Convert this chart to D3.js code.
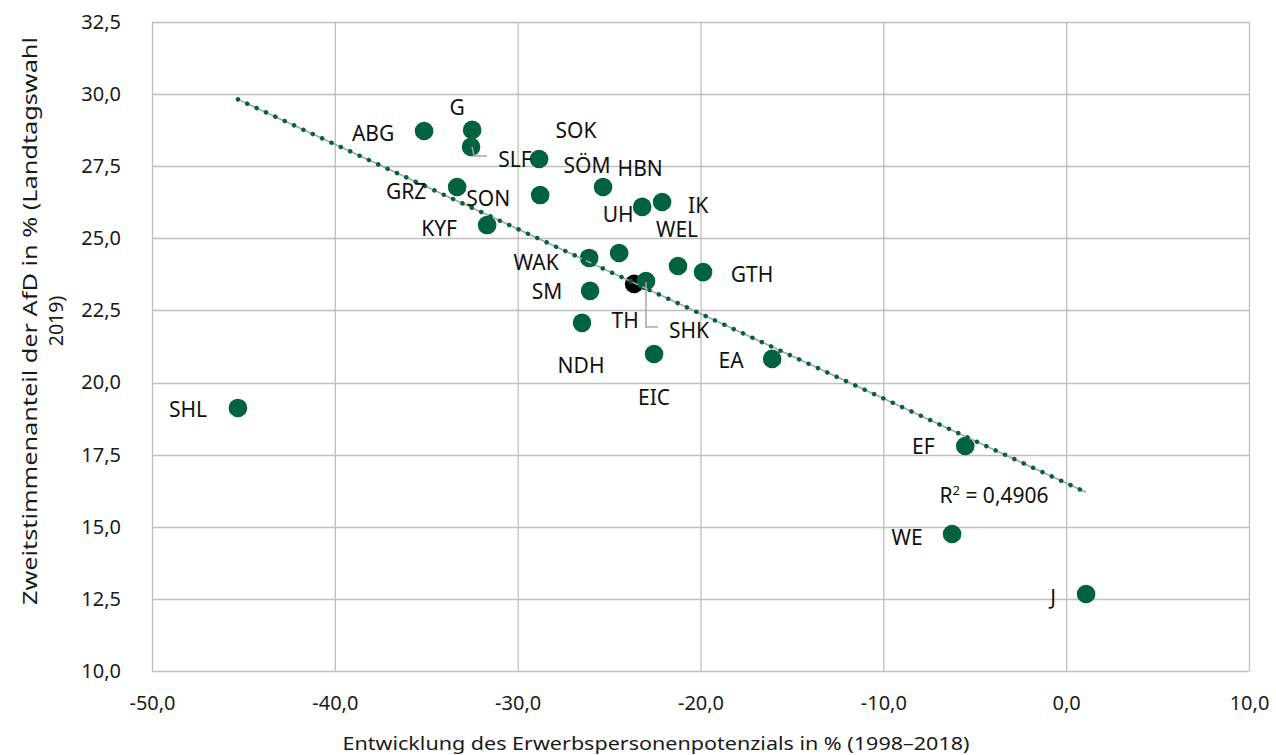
<!DOCTYPE html>
<html><head><meta charset="utf-8">
<script src="https://cdn.jsdelivr.net/npm/d3@7"></script>
<style>
html,body{margin:0;padding:0;background:#fff;}
svg{display:block;font-family:"Noto Sans",sans-serif;}
</style></head><body>
<svg id="c" width="1276" height="755"></svg>
<script>
// ---- data ----
const labels = ["ABG","G","SLF","SOK","GRZ","SÖM","SON","HBN","IK","KYF","WAK","UH","WEL","GTH","SM","TH","SHK","NDH","EIC","EA","SHL","EF","WE","J"];
const xValues = [-35.12,-32.49,-32.55,-28.83,-33.31,-25.33,-28.77,-23.19,-22.10,-31.67,-26.09,-24.45,-21.23,-19.86,-26.04,-23.63,-22.98,-26.48,-22.54,-16.08,-45.30,-5.52,-6.24,1.09];
const yValues = [28.72,28.76,28.17,27.75,26.78,26.78,26.50,26.09,26.26,25.46,24.32,24.49,24.04,23.83,23.18,23.42,23.52,22.07,20.99,20.82,19.12,17.80,14.75,12.67];
const xTicks = [-50,-40,-30,-20,-10,0,10];
const yTicks = [10,12.5,15,17.5,20,22.5,25,27.5,30,32.5];
const rSquaredText = "0,4906";
// label offsets in px (layout, separate from data)
const labelOffsets = [[-51,2],[-15,-22],[44,13],[37,-29],[-51,4],[-16,-22],[-52,3],[-2,-38],[36,3],[-48,3],[-53,4],[-1,-39],[-1,-37],[49,2],[-43,1],[-9,37],[43,49],[-1,43],[0,43],[-41,2],[-50,2],[-42,0],[-45,3],[-33,3]];

const svg = d3.select("#c");
const x = d3.scaleLinear().domain([-50,10]).range([152,1249]);
const y = d3.scaleLinear().domain([10,32.5]).range([671,22]);
const fmt = v => d3.format(".1f")(v).replace(".",",").replace("\u2212","-");
const gridC = "#bfbfbf", green = "#00623f";

// grid
svg.append("g").selectAll("line.v").data(xTicks).join("line")
  .attr("x1",d=>x(d)+0.5).attr("x2",d=>x(d)+0.5).attr("y1",y(32.5)).attr("y2",y(10))
  .attr("stroke",gridC).attr("stroke-width",1.3);
svg.append("g").selectAll("line.h").data(yTicks).join("line")
  .attr("y1",d=>Math.round(y(d))+0.5).attr("y2",d=>Math.round(y(d))+0.5).attr("x1",x(-50)).attr("x2",x(10))
  .attr("stroke",gridC).attr("stroke-width",1.3);

// axes
const xAxis = d3.axisBottom(x).tickValues(xTicks).tickFormat(fmt).tickSize(0).tickPadding(25);
const gx = svg.append("g").attr("transform",`translate(0,${y(10)})`).call(xAxis);
gx.select(".domain").remove();
gx.selectAll("text").attr("font-size",20).attr("fill","#1a1a1a").attr("font-family","Noto Sans");
const yAxis = d3.axisLeft(y).tickValues(yTicks).tickFormat(fmt).tickSize(0).tickPadding(31);
const gy = svg.append("g").attr("transform",`translate(${x(-50)},0)`).call(yAxis);
gy.select(".domain").remove();
gy.selectAll("text").attr("font-size",20).attr("fill","#1a1a1a").attr("font-family","Noto Sans");

// axis titles
svg.append("text").attr("x",656).attr("y",750).attr("text-anchor","middle")
  .attr("font-size",18).attr("fill","#1a1a1a").attr("textLength",627).attr("lengthAdjust","spacingAndGlyphs")
  .text("Entwicklung des Erwerbspersonenpotenzials in % (1998–2018)");
const yt = svg.append("text").attr("transform","translate(0,321) rotate(-90)").attr("text-anchor","middle")
  .attr("font-size",19.5).attr("fill","#1a1a1a");
yt.append("tspan").attr("x",0).attr("y",37).attr("textLength",568).attr("lengthAdjust","spacingAndGlyphs").text("Zweitstimmenanteil der AfD in % (Landtagswahl");
yt.append("tspan").attr("x",0).attr("y",63).text("2019)");

// points
svg.append("g").selectAll("circle").data(labels).join("circle")
  .attr("cx",(d,i)=>x(xValues[i])).attr("cy",(d,i)=>y(yValues[i])).attr("r",9.3)
  .attr("fill",d=>d==="TH"?"#000":green);

// leader lines
function leader(lbl, pts){
  const i = labels.indexOf(lbl);
  const px = x(xValues[i]), py = y(yValues[i]);
  svg.append("polyline").attr("points",pts.map(p=>[px+p[0],py+p[1]].join(",")).join(" "))
    .attr("fill","none").attr("stroke","#a6a6a6").attr("stroke-width",1.5);
}
leader("SLF",[[1,0],[3,9],[16,9]]);
leader("SHK",[[0,1],[0,46],[12,46]]);

// trendline (least squares)
const n = xValues.length;
const mx = d3.mean(xValues), my = d3.mean(yValues);
let sxy=0,sxx=0; for(let i=0;i<n;i++){sxy+=(xValues[i]-mx)*(yValues[i]-my);sxx+=(xValues[i]-mx)**2;}
const b = sxy/sxx, a = my-b*mx;
const x0 = d3.min(xValues), x1 = d3.max(xValues);
svg.append("line").attr("x1",x(x0)).attr("y1",y(a+b*x0)).attr("x2",x(x1)).attr("y2",y(a+b*x1))
  .attr("stroke","#a6a6a6").attr("stroke-width",1.6);
svg.append("line").attr("x1",x(x0)).attr("y1",y(a+b*x0)).attr("x2",x(x1)).attr("y2",y(a+b*x1))
  .attr("stroke",green).attr("stroke-width",4.5).attr("stroke-linecap","round").attr("stroke-dasharray","0.01 10.3");

// labels
svg.append("g").selectAll("text").data(labels).join("text")
  .attr("x",(d,i)=>x(xValues[i])+labelOffsets[i][0]).attr("y",(d,i)=>y(yValues[i])+labelOffsets[i][1])
  .attr("dy","0.36em").attr("text-anchor","middle").attr("font-size",21).attr("fill","#111").text(d=>d);

// R²
const rt = svg.append("text").attr("x",994).attr("y",503).attr("text-anchor","middle").attr("font-size",21).attr("fill","#111");
rt.append("tspan").text("R");
rt.append("tspan").attr("dy",-8).attr("font-size",13).text("2");
rt.append("tspan").attr("dy",8).text(" = " + rSquaredText);
</script></body></html>
